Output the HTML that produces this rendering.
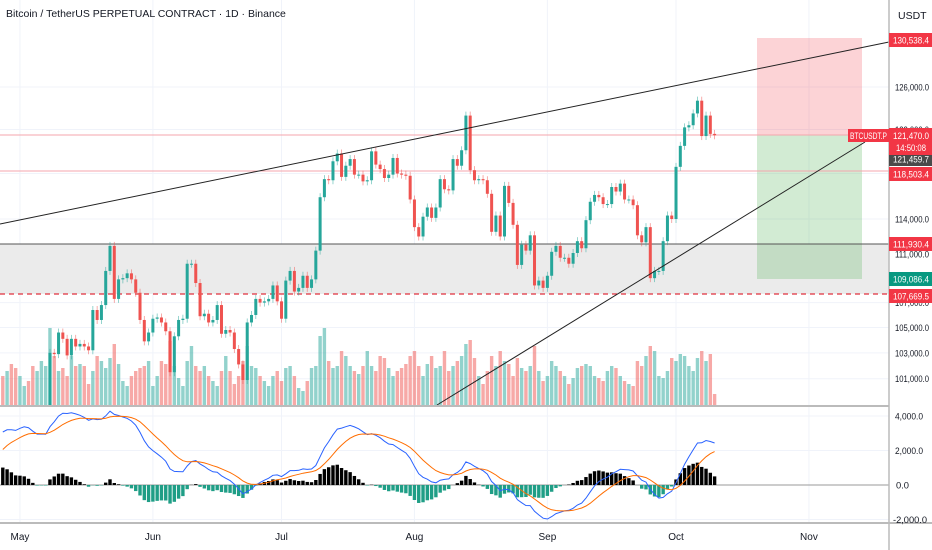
<!DOCTYPE html>
<html><head><meta charset="utf-8"><style>
html,body{margin:0;padding:0;background:#fff;width:932px;height:550px;overflow:hidden}
svg{display:block;font-family:"Liberation Sans",sans-serif}
</style></head><body>
<svg id="c" width="932" height="550" viewBox="0 0 932 550">
<defs>
<clipPath id="mainClip"><rect x="0" y="0" width="889" height="405"/></clipPath>
<clipPath id="macdClip"><rect x="0" y="407" width="889" height="115"/></clipPath>
</defs>
<g id="grid"></g>
<rect x="0" y="244" width="889" height="50" fill="#ebebeb"/>
<g>
<rect x="757" y="38" width="105" height="97" fill="rgba(242,54,69,0.22)"/>
<rect x="757" y="135" width="105" height="144" fill="rgba(76,175,80,0.25)"/>
</g>
<line x1="0" y1="135" x2="889" y2="135" stroke="#f4a6ac" stroke-width="1"/>
<line x1="0" y1="171" x2="889" y2="171" stroke="#f4a6ac" stroke-width="1"/>
<line x1="0" y1="244" x2="889" y2="244" stroke="#555" stroke-width="1"/>
<line x1="0" y1="294" x2="889" y2="294" stroke="#e0313e" stroke-width="1.3" stroke-dasharray="5,4"/>
<g id="vol" clip-path="url(#mainClip)"></g>
<g id="candles" clip-path="url(#mainClip)"></g>
<line x1="0" y1="224" x2="889" y2="42" stroke="#222" stroke-width="1"/>
<line x1="437" y1="405" x2="865" y2="142" stroke="#222" stroke-width="1"/>
<g id="macd"></g>
<line x1="0" y1="406" x2="889" y2="406" stroke="#bbb" stroke-width="2"/>
<line x1="0" y1="523" x2="932" y2="523" stroke="#bbb" stroke-width="2"/>
<line x1="889" y1="0" x2="889" y2="550" stroke="#bbb" stroke-width="1.5"/>
<g id="axes"></g>
<text x="6" y="17" font-size="10.5" fill="#131722">Bitcoin / TetherUS PERPETUAL CONTRACT · 1D · Binance</text>
<text x="898" y="19" font-size="10.5" fill="#131722">USDT</text>
<g id="tags"></g>
</svg>
<script>
const NS="http://www.w3.org/2000/svg";
const closes=[93.7,95.0,94.3,94.2,
96.5,96.9,95.9,94.3,94.7,96.8,97.0,103.0,102.9,104.6,104.1,102.8,104.1,103.5,103.7,103.5,103.2,106.4,105.6,106.8,109.6,111.7,107.3,108.9,109.0,109.4,108.9,107.8,105.6,103.9,104.6,
105.7,105.8,105.4,104.7,101.5,104.3,105.6,105.7,110.2,110.2,108.6,105.9,106.1,105.4,105.6,106.8,104.5,104.8,104.6,103.3,102.1,100.9,105.4,106.0,107.3,107.0,107.1,107.3,108.4,107.1,
105.7,108.8,109.6,107.9,108.2,109.2,108.2,108.9,111.3,115.9,117.5,117.4,119.1,119.8,117.7,118.7,119.3,117.9,117.9,117.3,117.4,120.0,118.8,118.4,117.6,117.9,119.4,118.0,117.9,117.8,115.7,
113.3,112.5,114.2,115.0,114.1,115.0,117.5,116.6,116.5,119.3,118.7,120.1,123.3,118.3,117.4,117.5,117.4,116.2,112.9,114.3,112.5,116.9,115.4,113.5,110.1,111.8,111.3,112.6,108.4,108.8,108.2,
109.2,111.2,111.7,110.7,110.7,110.2,111.1,112.1,111.5,113.9,115.5,116.1,115.9,115.3,115.3,116.8,116.4,117.1,115.7,115.7,115.2,112.6,112.0,113.3,109.0,109.6,109.6,112.1,114.3,114.0,
118.6,120.5,122.2,122.4,123.5,124.7,121.4,123.3,121.6,121.47];
const priorCloses=[85.2,82.5,83.1,83.8,83.5,78.4,79.2,76.3,82.6,79.6,83.4,85.3,83.7,84.5,83.6,84.0,84.9,84.5,85.1,85.2,87.5,93.4,93.7,93.9,94.7,94.6];
const volumes=[30,35,42,38,30,20,25,40,35,45,40,78,
50,35,38,30,50,40,42,40,22,35,50,45,38,48,62,42,25,20,30,35,38,40,45,
20,30,45,42,65,40,28,20,45,60,40,35,40,30,25,20,35,50,35,22,30,45,60,40,38,30,25,20,30,35,
25,38,40,30,18,15,25,38,40,70,78,45,38,40,55,50,40,35,32,40,55,40,35,50,48,38,30,35,38,42,50,
55,40,30,42,50,38,40,55,35,40,45,50,62,66,48,30,22,35,50,40,55,45,42,30,48,38,35,40,60,35,25,
30,45,40,35,30,22,28,38,40,42,40,30,28,25,35,40,38,30,25,22,20,45,40,50,60,55,30,28,35,48,
45,52,50,40,35,48,55,45,52,12];
const priceTicks=[126000,122000,118000,114000,111000,109000,107000,105000,103000,101000];
const macdTicks=[4000,2000,0,-2000];
const monthLabels=["May","Jun","Jul","Aug","Sep","Oct","Nov"];
const monthDayIdx=[4,35,65,96,127,157,188];

const xOf=i=>2.8+i*4.288;
const yP=p=>87+1319*Math.log(126000/p);
const yM=v=>485-v*0.01725;
function mk(tag,attrs,parent){const e=document.createElementNS(NS,tag);for(const k in attrs)e.setAttribute(k,attrs[k]);parent.appendChild(e);return e;}
const grid=document.getElementById('grid'),axes=document.getElementById('axes');
monthDayIdx.forEach((d,i)=>{
  const x=xOf(d);
  const gl=mk('line',{x1:x,y1:0,x2:x,y2:523,stroke:'#f0f3fa','stroke-width':1},grid);
  
  
  const t=mk('text',{x:x,y:540,'font-size':10,fill:'#131722','text-anchor':'middle'},axes);
  t.textContent=monthLabels[i];
  
  
});
priceTicks.forEach(p=>{
  const y=yP(p);
  const gl=mk('line',{x1:0,y1:y,x2:889,y2:y,stroke:'#f0f3fa','stroke-width':1},grid);
  
  
  const t=mk('text',{x:895,y:y+3.5,'font-size':9.5,fill:'#131722',textLength:34,lengthAdjust:'spacingAndGlyphs'},axes);
  t.textContent=p.toLocaleString('en-US')+'.0';
  
  
});
macdTicks.forEach(v=>{
  const y=yM(v);
  const gl=mk('line',{x1:0,y1:y,x2:889,y2:y,stroke:v===0?'#999':'#f0f3fa','stroke-width':1},grid);
  
  
  const s=(v<0?'-':'')+Math.abs(v).toLocaleString('en-US')+'.0';
  const t=mk('text',{x:v<0?893:(v===0?896:895),y:y+3.5,'font-size':9.5,fill:'#131722',textLength:v<0?34:(v===0?13:28),lengthAdjust:'spacingAndGlyphs'},axes);
  t.textContent=s;
  
  
});
const vg=document.getElementById('vol'),cg=document.getElementById('candles');
let prev=priorCloses[priorCloses.length-1];
closes.forEach((c,i)=>{
  const o=prev;prev=c;
  const up=c>=o;const x=xOf(i);
  const vh=volumes[i];
  const vb=mk('rect',{x:x-1.7,y:406-vh,width:3.4,height:vh,fill:up?'rgba(38,166,154,0.5)':'rgba(239,83,80,0.5)'},vg);
  
  
  const y1=yP(Math.max(o,c)*1000),y2=yP(Math.min(o,c)*1000);
  const col=up?'#26a69a':'#ef5350';
  const w=mk('line',{x1:x,y1:y1-4,x2:x,y2:y2+4,stroke:col,'stroke-width':0.8,opacity:0.6},cg);
  
  
  const b=mk('rect',{x:x-1.5,y:y1,width:3,height:Math.max(1,y2-y1),fill:col},cg);
  
  
});
const all=priorCloses.concat(closes);
let e12=83000,e26=83000,sig=0;const a12=2/13,a26=2/27,a9=2/10;
const mline=[],sline=[];
all.forEach((c,i)=>{c*=1000;e12=e12+a12*(c-e12);e26=e26+a26*(c-e26);const m=e12-e26;sig=i===0?m:sig+a9*(m-sig);
  if(i>=priorCloses.length){mline.push(m);sline.push(sig);}});
const mg=document.getElementById('macd');
const hg=mk('g',{'clip-path':'url(#macdClip)'},mg);
mline.forEach((m,i)=>{
  const h=m-sline[i];const x=xOf(i);
  const y0=yM(0),y=yM(h);
  const r=mk('rect',{x:x-1.7,y:Math.min(y0,y),width:3.4,height:Math.abs(y-y0),fill:h>=0?'#000':'#1f9e86'},hg);
  
  
});
const pm=mk('path',{d:mline.map((m,i)=>(i?'L':'M')+xOf(i).toFixed(1)+' '+yM(m).toFixed(1)).join(''),fill:'none',stroke:'#2962ff','stroke-width':1},hg);


const ps=mk('path',{d:sline.map((m,i)=>(i?'L':'M')+xOf(i).toFixed(1)+' '+yM(m).toFixed(1)).join(''),fill:'none',stroke:'#ff6d00','stroke-width':1},hg);


const tg=document.getElementById('tags');
const tagDefs=[[40,'#f23645','130,538.4'],[174,'#f23645','118,503.4'],[244,'#f23645','111,930.4'],[279,'#089981','109,086.4'],[296,'#f23645','107,669.5'],[159,'#4a4a4a','121,459.7']];
tagDefs.forEach(d=>{
  const r=mk('rect',{x:889,y:d[0]-7,width:43,height:14,fill:d[1]},tg);
  
  
  const t=mk('text',{x:893,y:d[0]+3.5,'font-size':9.5,fill:'#fff',textLength:36,lengthAdjust:'spacingAndGlyphs'},tg);
  t.textContent=d[2];
  
  
});
const lr=mk('rect',{x:889,y:128,width:43,height:27,fill:'#f23645'},tg);


const lt=mk('text',{x:893,y:139,'font-size':9.5,fill:'#fff',textLength:36,lengthAdjust:'spacingAndGlyphs'},tg);lt.textContent='121,470.0';


const ct=mk('text',{x:896,y:151,'font-size':9.5,fill:'#fff',textLength:30,lengthAdjust:'spacingAndGlyphs'},tg);ct.textContent='14:50:08';


const sr=mk('rect',{x:848,y:129,width:41,height:13,fill:'#f23645'},tg);


const st=mk('text',{x:850,y:139,'font-size':9,fill:'#fff',textLength:37,lengthAdjust:'spacingAndGlyphs'},tg);st.textContent='BTCUSDT.P';


</script>
</body></html>
